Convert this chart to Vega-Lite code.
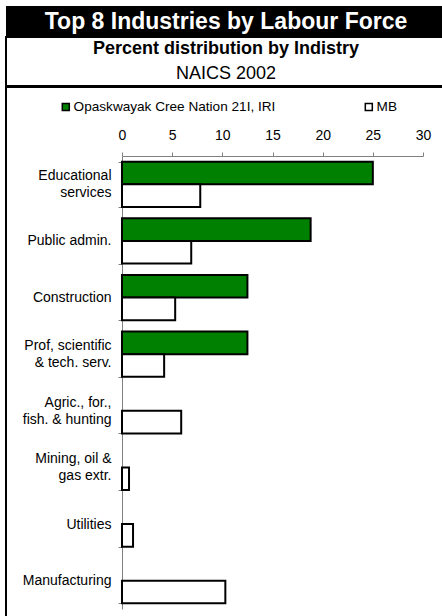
{
  "$schema": "https://vega.github.io/schema/vega-lite/v6.json",
  "padding": {"left": 5, "top": 6, "right": -10, "bottom": -3},
  "background": "white",
  "spacing": -2,
  "config": {
    "font": "Liberation Sans",
    "text": {"font": "Liberation Sans"}
  },
  "vconcat": [
    {
      "width": 440,
      "height": 31,
      "view": {"fill": "black", "stroke": null},
      "data": {"values": [{"text": "Top 8 Industries by Labour Force"}]},
      "mark": {"type": "text", "color": "white", "fontSize": 23, "fontWeight": "bold", "dy": 0.5},
      "encoding": {"text": {"field": "text", "type": "nominal"}}
    },
    {
      "spacing": -10,
      "resolve": {"legend": {"fill": "independent"}, "scale": {"fill": "independent", "y": "independent", "x": "independent"}},
      "vconcat": [
        {
          "width": 445,
          "height": 49,
          "view": {"fill": "white", "stroke": "black", "strokeWidth": 2},
          "data": {"values": [
            {"text": "Percent distribution by Indistry", "k": 1},
            {"text": "NAICS 2002", "k": 2}
          ]},
          "encoding": {
            "y": {"field": "k", "type": "ordinal", "axis": null, "scale": {"type": "point", "padding": 0.5}},
            "text": {"field": "text", "type": "nominal"}
          },
          "layer": [
            {"transform": [{"filter": "datum.k == 1"}], "mark": {"type": "text", "fontSize": 18, "fontWeight": "bold", "color": "black", "dx": -2.5}},
            {"transform": [{"filter": "datum.k == 2"}], "mark": {"type": "text", "fontSize": 18, "color": "black", "dx": -2.5}}
          ]
        },
        {
          "width": 445,
          "height": 533,
          "view": {"fill": "white", "stroke": "black", "strokeWidth": 2},
          "data": {"values": [
            {"industry": "Educational services", "series": "Opaskwayak Cree Nation 21I, IRI", "value": 25.0},
            {"industry": "Educational services", "series": "MB", "value": 7.8},
            {"industry": "Public admin.", "series": "Opaskwayak Cree Nation 21I, IRI", "value": 18.8},
            {"industry": "Public admin.", "series": "MB", "value": 6.9},
            {"industry": "Construction", "series": "Opaskwayak Cree Nation 21I, IRI", "value": 12.5},
            {"industry": "Construction", "series": "MB", "value": 5.3},
            {"industry": "Prof, scientific & tech. serv.", "series": "Opaskwayak Cree Nation 21I, IRI", "value": 12.5},
            {"industry": "Prof, scientific & tech. serv.", "series": "MB", "value": 4.2},
            {"industry": "Agric., for., fish. & hunting", "series": "MB", "value": 5.9},
            {"industry": "Mining, oil & gas extr.", "series": "MB", "value": 0.7},
            {"industry": "Utilities", "series": "MB", "value": 1.1},
            {"industry": "Manufacturing", "series": "MB", "value": 10.3}
          ]},
          "mark": {"type": "bar", "stroke": "black", "strokeWidth": 2},
          "encoding": {
            "y": {
              "field": "industry",
              "type": "nominal",
              "sort": ["Educational services", "Public admin.", "Construction", "Prof, scientific & tech. serv.", "Agric., for., fish. & hunting", "Mining, oil & gas extr.", "Utilities", "Manufacturing"],
              "scale": {"range": [69, 522], "paddingInner": 0.2, "paddingOuter": 0.1},
              "axis": {
                "orient": "left",
                "offset": -116,
                "title": null,
                "tickBand": "extent",
                "domainColor": "#808080",
                "tickColor": "#808080",
                "tickSize": 4,
                "labelFontSize": 14,
                "labelColor": "black",
                "labelPadding": 7,
                "labelLineHeight": 17,
                "labelLimit": 200,
                "labelOffset": {
                  "condition": {"test": "indexof(['Educational services', 'Prof, scientific & tech. serv.', 'Agric., for., fish. & hunting', 'Mining, oil & gas extr.'], datum.value) >= 0", "value": -8.5},
                  "value": 0
                },
                "labelExpr": "datum.value == 'Educational services' ? ['Educational', 'services\u00a0\u00a0\u00a0'] : datum.value == 'Prof, scientific & tech. serv.' ? ['Prof, scientific', '& tech. serv.\u00a0'] : datum.value == 'Agric., for., fish. & hunting' ? ['Agric., for.,\u00a0\u00a0\u00a0', 'fish. & hunting'] : datum.value == 'Mining, oil & gas extr.' ? ['Mining, oil &', 'gas extr.\u00a0\u00a0\u00a0'] : datum.value"
              }
            },
            "yOffset": {
              "field": "series",
              "type": "nominal",
              "sort": ["Opaskwayak Cree Nation 21I, IRI", "MB"],
              "scale": {"domain": ["Opaskwayak Cree Nation 21I, IRI", "MB"], "paddingInner": 0, "paddingOuter": 0}
            },
            "x": {
              "field": "value",
              "type": "quantitative",
              "scale": {"domain": [0, 30], "range": [116, 417], "nice": false},
              "axis": {
                "orient": "top",
                "offset": -69,
                "values": [0, 5, 10, 15, 20, 25, 30],
                "title": null,
                "grid": false,
                "labelFlush": false,
                "domainColor": "#808080",
                "tickColor": "#808080",
                "tickSize": 4,
                "labelFontSize": 14,
                "labelColor": "black",
                "labelPadding": 10
              }
            },
            "fill": {
              "field": "series",
              "type": "nominal",
              "scale": {"domain": ["Opaskwayak Cree Nation 21I, IRI", "MB"], "range": ["#008000", "#ffffff"]},
              "legend": {
                "orient": "none",
                "legendX": 53,
                "legendY": 13,
                "direction": "horizontal",
                "title": null,
                "padding": 0,
                "symbolType": "square",
                "symbolSize": 49,
                "symbolStrokeColor": "black",
                "symbolStrokeWidth": 1.5,
                "symbolOpacity": 1,
                "labelFontSize": 13.6,
                "labelColor": "black",
                "labelOffset": 1,
                "columnPadding": 86,
                "labelLimit": 300
              }
            }
          }
        }
      ]
    }
  ]
}
